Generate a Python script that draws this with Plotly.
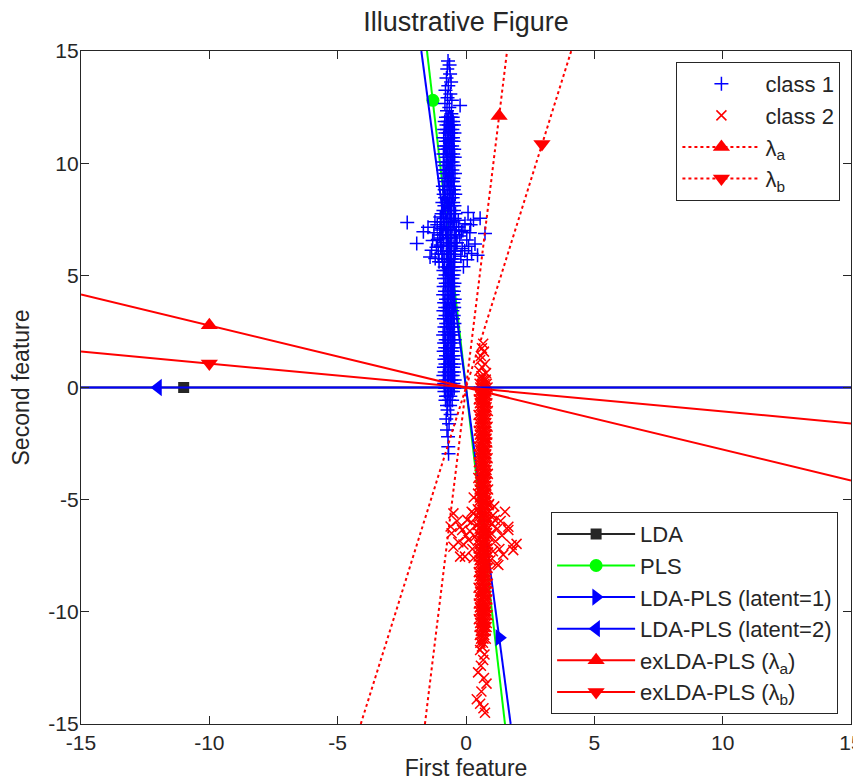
import plotly.graph_objects as go

# ---------------- data ----------------
# class 1: dense column rows (y, x-values), tails and the horizontal blob
class1_rows = [
    (12.05, [-0.78, -0.69, -0.60, -0.52]), (11.86, [-0.83, -0.71, -0.62, -0.50]),
    (11.70, [-0.76, -0.66, -0.57, -0.47]), (11.50, [-0.85, -0.74, -0.63, -0.53]),
    (11.34, [-0.80, -0.68, -0.59, -0.45]), (11.13, [-0.87, -0.72, -0.61, -0.51]),
    (10.98, [-0.79, -0.67, -0.56, -0.48]), (10.77, [-0.84, -0.75, -0.64, -0.54]),
    (10.62, [-0.81, -0.70, -0.58, -0.46]), (10.41, [-0.88, -0.73, -0.62, -0.50]),
    (10.26, [-0.77, -0.66, -0.55, -0.44]), (10.05, [-0.86, -0.71, -0.60, -0.52]),
    (9.90, [-0.82, -0.69, -0.57, -0.47]), (9.69, [-0.89, -0.76, -0.65, -0.53]),
    (9.54, [-0.80, -0.67, -0.58, -0.43]), (9.33, [-0.85, -0.72, -0.61, -0.49]),
    (9.18, [-0.78, -0.68, -0.56, -0.51]), (8.97, [-0.90, -0.74, -0.63, -0.46]),
    (8.82, [-0.83, -0.70, -0.59, -0.48]), (8.61, [-0.87, -0.65, -0.55, -0.42]),
    (8.46, [-0.81, -0.73, -0.62, -0.52]), (8.25, [-0.92, -0.77, -0.64, -0.50]),
    (8.10, [-0.84, -0.69, -0.57, -0.45]), (7.89, [-0.88, -0.72, -0.60, -0.47]),
    (7.74, [-0.95, -0.79, -0.63, -0.41]), (7.53, [-0.86, -0.70, -0.56, -0.44]),
    (7.38, [-0.98, -0.75, -0.61, -0.49]), (7.17, [-0.89, -0.67, -0.54, -0.38]),
    (7.02, [-1.01, -0.78, -0.62, -0.46]), (6.81, [-0.91, -0.71, -0.58, -0.40]),
    (6.66, [-0.97, -0.76, -0.60, -0.43]), (6.45, [-0.87, -0.69, -0.55, -0.37]),
    (6.30, [-0.99, -0.74, -0.63, -0.47]), (6.09, [-0.90, -0.72, -0.57, -0.42]),
    (5.94, [-0.94, -0.77, -0.61, -0.45]), (5.73, [-0.85, -0.68, -0.56, -0.48]),
    (5.58, [-0.91, -0.73, -0.62, -0.44]), (5.37, [-0.83, -0.70, -0.58, -0.51]),
    (5.22, [-0.88, -0.75, -0.60, -0.46]), (5.01, [-0.80, -0.67, -0.55, -0.49]),
    (4.86, [-0.86, -0.72, -0.63, -0.53]), (4.65, [-0.79, -0.69, -0.57, -0.45]),
    (4.50, [-0.87, -0.74, -0.61, -0.50]), (4.29, [-0.82, -0.66, -0.56, -0.47]),
    (4.14, [-0.89, -0.71, -0.60, -0.52]), (3.93, [-0.78, -0.68, -0.58, -0.44]),
    (3.78, [-0.85, -0.73, -0.62, -0.49]), (3.57, [-0.81, -0.70, -0.55, -0.46]),
    (3.42, [-0.88, -0.75, -0.64, -0.53]), (3.21, [-0.80, -0.67, -0.57, -0.48]),
    (3.06, [-0.86, -0.72, -0.60, -0.51]), (2.85, [-0.77, -0.69, -0.56, -0.45]),
    (2.70, [-0.84, -0.74, -0.63, -0.50]), (2.49, [-0.82, -0.66, -0.58, -0.47]),
    (2.34, [-0.89, -0.71, -0.61, -0.52]), (2.13, [-0.79, -0.68, -0.55, -0.44]),
    (1.98, [-0.85, -0.73, -0.62, -0.49]), (1.77, [-0.81, -0.70, -0.57, -0.46]),
    (1.62, [-0.87, -0.75, -0.60, -0.53]), (1.41, [-0.78, -0.67, -0.56, -0.48]),
    (1.26, [-0.84, -0.72, -0.63, -0.51]), (1.05, [-0.80, -0.69, -0.58, -0.45]),
    (0.90, [-0.86, -0.74, -0.61, -0.50]), (0.69, [-0.83, -0.66, -0.55, -0.47]),
    (0.54, [-0.88, -0.71, -0.60, -0.52]), (0.33, [-0.79, -0.68, -0.57, -0.44]),
    (0.18, [-0.85, -0.73, -0.62, -0.49]), (-0.03, [-0.81, -0.70, -0.56, -0.46]),
    (-0.18, [-0.84, -0.67, -0.59, -0.51]), (-0.39, [-0.78, -0.72, -0.61]),
    (-0.57, [-0.80, -0.66, -0.54]), (-0.80, [-0.74, -0.62]),
]
class1_tail_x = [-0.70, -0.64, -0.73, -0.62, -0.76, -0.58, -0.69, -0.80, -0.61, -0.72,
                 -0.55, -0.82, -0.23, -0.65, -0.74, -0.57,
                 -0.72, -0.60, -0.77, -0.66, -0.74, -0.70, -0.69, -0.68]
class1_tail_y = [14.55, 14.38, 14.20, 13.98, 13.80, 13.62, 13.45, 13.25, 13.08, 12.92,
                 12.80, 12.66, 12.57, 12.48, 12.34, 12.20,
                 -1.00, -1.20, -1.40, -1.62, -1.90, -2.20, -2.64, -2.95]
class1_blob_x = [-2.29, -1.92, -1.66, -1.40, 0.29, 0.55, 0.74, 0.45, -1.00, 0.35,
                 -1.21, -1.48, -1.34, -1.10, -1.25, -1.05, -1.15, -1.30, -0.95, -1.12,
                 -0.98, -1.08, -1.20, -1.02,
                 -0.10, -0.04, 0.03, 0.15, -0.15, 0.08, -0.12, -0.25, 0.22, -0.30,
                 -0.20, -0.05, 0.10, -0.35, -0.28, 0.18, -0.18, 0.05]
class1_blob_y = [7.36, 6.42, 6.94, 5.82, 7.47, 7.54, 6.87, 5.90, 7.60, 6.40,
                 7.39, 7.14, 6.12, 6.60, 6.90, 5.60, 6.25, 6.55, 7.10, 7.25,
                 6.35, 5.95, 5.75, 6.80,
                 5.38, 7.30, 6.57, 6.90, 6.20, 7.80, 7.00, 6.75, 5.97, 7.45,
                 5.85, 6.10, 6.30, 6.45, 7.15, 7.25, 6.95, 5.70]

# class 2
class2_rows = [
    (0.35, [0.58, 0.68, 0.77]), (0.17, [0.53, 0.62, 0.72, 0.81]),
    (0.00, [0.56, 0.66, 0.75, 0.84]), (-0.18, [0.51, 0.60, 0.70, 0.79]),
    (-0.35, [0.55, 0.64, 0.73, 0.82]), (-0.53, [0.50, 0.61, 0.69, 0.78]),
    (-0.70, [0.54, 0.65, 0.74, 0.83]), (-0.88, [0.52, 0.63, 0.71, 0.80]),
    (-1.05, [0.57, 0.67, 0.76, 0.85]), (-1.23, [0.49, 0.60, 0.68, 0.77]),
    (-1.40, [0.55, 0.64, 0.72, 0.81]), (-1.58, [0.51, 0.62, 0.70, 0.79]),
    (-1.75, [0.56, 0.66, 0.75, 0.84]), (-1.93, [0.50, 0.61, 0.69, 0.78]),
    (-2.10, [0.54, 0.63, 0.73, 0.82]), (-2.28, [0.52, 0.65, 0.71, 0.80]),
    (-2.45, [0.57, 0.67, 0.76, 0.83]), (-2.63, [0.49, 0.60, 0.68, 0.77]),
    (-2.80, [0.55, 0.64, 0.74, 0.81]), (-2.98, [0.51, 0.62, 0.70, 0.79]),
    (-3.15, [0.56, 0.66, 0.75, 0.84]), (-3.33, [0.50, 0.61, 0.69, 0.78]),
    (-3.50, [0.54, 0.63, 0.72, 0.82]), (-3.68, [0.52, 0.65, 0.71, 0.80]),
    (-3.85, [0.57, 0.67, 0.76, 0.85]), (-4.03, [0.48, 0.60, 0.68, 0.77]),
    (-4.20, [0.55, 0.64, 0.73, 0.81]), (-4.38, [0.51, 0.62, 0.70, 0.79]),
    (-4.55, [0.53, 0.66, 0.75, 0.86]), (-4.73, [0.47, 0.61, 0.69, 0.78]),
    (-4.90, [0.54, 0.63, 0.72, 0.83]), (-5.08, [0.50, 0.65, 0.74, 0.80]),
    (-5.25, [0.56, 0.67, 0.76, 0.88]), (-5.43, [0.46, 0.60, 0.68, 0.79]),
    (-5.60, [0.52, 0.64, 0.73, 0.84]), (-5.78, [0.49, 0.62, 0.70, 0.81]),
    (-5.95, [0.55, 0.66, 0.77, 0.87]), (-6.13, [0.45, 0.61, 0.69, 0.80]),
    (-6.30, [0.53, 0.63, 0.72, 0.85]), (-6.48, [0.48, 0.65, 0.74, 0.82]),
    (-6.65, [0.56, 0.67, 0.76, 0.89]), (-6.83, [0.47, 0.60, 0.70, 0.79]),
    (-7.00, [0.52, 0.64, 0.73, 0.84]), (-7.18, [0.50, 0.62, 0.71, 0.81]),
    (-7.35, [0.55, 0.66, 0.75, 0.86]), (-7.53, [0.49, 0.61, 0.69, 0.80]),
    (-7.70, [0.53, 0.63, 0.72, 0.83]), (-7.88, [0.51, 0.65, 0.74, 0.81]),
    (-8.05, [0.56, 0.67, 0.76, 0.84]), (-8.23, [0.50, 0.60, 0.68, 0.78]),
    (-8.40, [0.54, 0.64, 0.73, 0.82]), (-8.58, [0.52, 0.62, 0.70, 0.79]),
    (-8.75, [0.57, 0.66, 0.75, 0.85]), (-8.93, [0.49, 0.61, 0.69, 0.78]),
    (-9.10, [0.55, 0.63, 0.72, 0.81]), (-9.28, [0.51, 0.65, 0.71, 0.80]),
    (-9.45, [0.56, 0.67, 0.76, 0.83]), (-9.63, [0.50, 0.60, 0.68, 0.77]),
    (-9.80, [0.54, 0.64, 0.74, 0.82]), (-9.98, [0.52, 0.62, 0.70, 0.79]),
    (-10.15, [0.57, 0.66, 0.75, 0.84]), (-10.33, [0.50, 0.61, 0.69, 0.78]),
    (-10.50, [0.55, 0.63, 0.72, 0.81]), (-10.68, [0.53, 0.65, 0.73, 0.80]),
    (-10.85, [0.58, 0.67, 0.76]), (-11.03, [0.54, 0.62, 0.71]),
    (-11.20, [0.59, 0.68, 0.77]), (-11.38, [0.56, 0.66]),
]
class2_tail_x = [0.67, 0.62, 0.70, 0.58, 0.55, 0.74, 0.63, 0.52, 0.78, 0.60,
                 0.62, 0.55, 0.72, 0.67, 0.58, 0.47, 0.70, 0.80, 0.60, 0.42,
                 0.55, 0.68, 0.74]
class2_tail_y = [1.95, 1.75, 1.60, 1.40, 1.23, 1.05, 0.90, 0.75, 0.64, 0.50,
                 -11.55, -11.70, -11.90, -12.15, -12.40, -12.70, -12.95, -13.20, -13.55, -13.90,
                 -14.10, -14.30, -14.50]
class2_blob_x = [-0.49, -0.49, -0.56, 1.97, 1.84, 1.78, 1.65, 1.65, 1.52, -0.60,
                 -0.23, -0.04, 0.22, 1.26, 1.13, -0.23, 1.20, 0.10, 1.40, 0.05,
                 1.05, -0.35, 0.25, 1.10, 0.30, 0.15, 0.00, -0.10, 0.20, 0.35,
                 0.30, 1.00, 1.15, 0.98, 1.30, 1.05, 0.95, 1.22, 1.35, -0.15,
                 0.28, 1.45, 0.90, -0.30]
class2_blob_y = [-5.61, -7.10, -6.50, -6.97, -7.25, -7.02, -6.21, -6.35, -5.54, -6.20,
                 -6.21, -7.54, -5.54, -7.91, -5.91, -7.54, -7.86, -6.80, -6.60, -5.90,
                 -7.30, -5.95, -7.20, -5.30, -4.90, -6.40, -6.60, -7.00, -6.00, -6.65,
                 -7.60, -6.10, -6.85, -6.50, -7.20, -5.70, -7.70, -6.30, -5.95, -6.35,
                 -5.60, -7.45, -5.20, -6.90]

# direction lines: end points and the position of each line's marker
lda_line_x = [-15, 15];      lda_line_y = [0, 0];        lda_mark = (-11.0, 0.0)
pls_line_x = [-1.52, 1.52];  pls_line_y = [15, -15];     pls_mark = (-1.29, 12.8)
lp1_line_x = [-1.74, 1.74];  lp1_line_y = [15, -15];     lp1_mark = (1.30, -11.15)
lp2_line_x = [-15, 15];      lp2_line_y = [0, 0];        lp2_mark = (-12.0, 0.0)
exa_line_x = [-15, 15];      exa_line_y = [4.15, -4.15]; exa_mark = (-10.0, 2.77)
exb_line_x = [-15, 15];      exb_line_y = [1.6, -1.6];   exb_mark = (-10.0, 1.07)
la_line_x = [-1.6, 1.6];     la_line_y = [-15, 15];      la_mark = (1.29, 12.1)
lb_line_x = [-4.1, 4.1];     lb_line_y = [-15, 15];      lb_mark = (2.96, 10.85)

tick_vals = [-15, -10, -5, 0, 5, 10, 15]
tick_text = ["-15", "-10", "-5", "0", "5", "10", "15"]

# ---------------- assemble point lists ----------------
class1_x = [x for _, xs in class1_rows for x in xs] + class1_tail_x + class1_blob_x
class1_y = [y for y, xs in class1_rows for _ in xs] + class1_tail_y + class1_blob_y
class2_x = [x for _, xs in class2_rows for x in xs] + class2_tail_x + class2_blob_x
class2_y = [y for y, xs in class2_rows for _ in xs] + class2_tail_y + class2_blob_y

FONT = "Liberation Sans, Arial, Helvetica, sans-serif"
TXT = "#262626"
BLUE = "#0000FF"
RED = "#FF0000"
GREEN = "#00FF00"
BLACK = "#262626"

fig = go.Figure()


def add_dir(name, lx, ly, mk, color, symbol, msize, dash, legend):
    line = dict(color=color, width=2, dash=dash)
    fig.add_trace(go.Scatter(x=lx, y=ly, mode="lines", line=line, legendgroup=name,
                             showlegend=False, hoverinfo="skip", legend=legend))
    fig.add_trace(go.Scatter(x=[mk[0]], y=[mk[1]], mode="lines+markers", name=name,
                             line=line, legend=legend, legendgroup=name,
                             marker=dict(symbol=symbol, size=msize, color=color,
                                         line=dict(width=0))))


add_dir("LDA", lda_line_x, lda_line_y, lda_mark, BLACK, "square", 11, "solid", "legend2")
add_dir("PLS", pls_line_x, pls_line_y, pls_mark, GREEN, "circle", 13, "solid", "legend2")
add_dir("LDA-PLS (latent=1)", lp1_line_x, lp1_line_y, lp1_mark, BLUE, "triangle-right", 15, "solid", "legend2")

fig.add_trace(go.Scatter(x=class1_x, y=class1_y, mode="markers", name="class 1", legend="legend",
                         marker=dict(symbol="cross-thin", size=10, color=BLUE,
                                     line=dict(color=BLUE, width=1.5))))
fig.add_trace(go.Scatter(x=class2_x, y=class2_y, mode="markers", name="class 2", legend="legend",
                         marker=dict(symbol="x-thin", size=10, color=RED,
                                     line=dict(color=RED, width=1.5))))

add_dir("LDA-PLS (latent=2)", lp2_line_x, lp2_line_y, lp2_mark, BLUE, "triangle-left", 15, "solid", "legend2")
add_dir("exLDA-PLS (λ<sub>a</sub>)", exa_line_x, exa_line_y, exa_mark, RED, "triangle-up", 15, "solid", "legend2")
add_dir("exLDA-PLS (λ<sub>b</sub>)", exb_line_x, exb_line_y, exb_mark, RED, "triangle-down", 15, "solid", "legend2")
add_dir("λ<sub>a</sub>", la_line_x, la_line_y, la_mark, RED, "triangle-up", 15, "dot", "legend")
add_dir("λ<sub>b</sub>", lb_line_x, lb_line_y, lb_mark, RED, "triangle-down", 15, "dot", "legend")

axis_common = dict(
    range=[-15, 15], tickvals=tick_vals, ticktext=tick_text,
    ticks="inside", ticklen=8, tickwidth=1, tickcolor=TXT,
    showline=True, linecolor=TXT, linewidth=1.2, mirror="ticks",
    showgrid=False, zeroline=False, automargin=False,
    ticklabeloverflow="allow",
    tickfont=dict(family=FONT, size=21, color=TXT),
)

legend_common = dict(
    bgcolor="white", bordercolor=TXT, borderwidth=1.2,
    font=dict(family=FONT, size=22, color=TXT),
    itemwidth=78, tracegroupgap=0,
)

# the page body adds an 8 px offset, so the figure is sized to fit the window
fig.update_layout(
    width=853, height=775,
    margin=dict(l=73, r=10, t=43, b=59),
    paper_bgcolor="white", plot_bgcolor="white",
    font=dict(family=FONT, color=TXT),
    title=dict(text="Illustrative Figure", x=0.5, xref="paper", y=0.982, yanchor="middle",
               font=dict(family=FONT, size=27, color=TXT)),
    xaxis=dict(axis_common, title=dict(text="First feature", standoff=6,
                                       font=dict(family=FONT, size=23, color=TXT))),
    yaxis=dict(axis_common, ticklabelstandoff=-3,
               title=dict(text="Second feature", standoff=14,
                          font=dict(family=FONT, size=23, color=TXT))),
    legend=dict(legend_common, x=0.986, y=0.984, xanchor="right", yanchor="top"),
    legend2=dict(legend_common, x=0.983, y=0.015, xanchor="right", yanchor="bottom"),
)

fig.write_html("out.html")
